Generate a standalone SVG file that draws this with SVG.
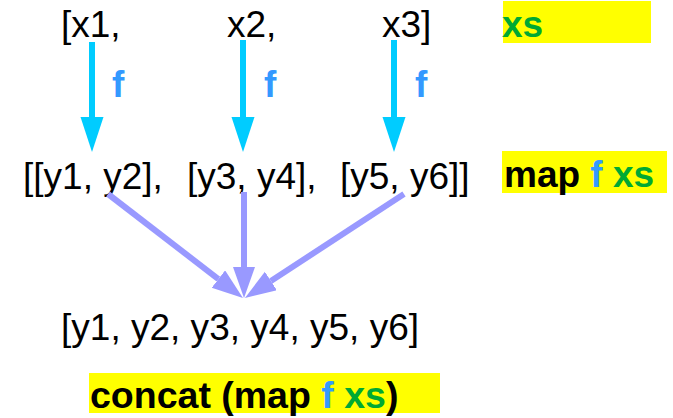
<svg xmlns="http://www.w3.org/2000/svg" width="673" height="418" viewBox="0 0 673 418">
<style>
.t{font-family:"Liberation Sans",Arial,sans-serif;font-size:37px;fill:#000}
.b{font-family:"Liberation Sans",Arial,sans-serif;font-size:37px;font-weight:bold;fill:#000}
.f{fill:#3399ff}
.g{fill:#00a933}
.hl{fill:#ffff00}
.cy{stroke:#00ccff;stroke-width:6;fill:none}
.pu{stroke:#9999ff;stroke-width:6;fill:none}
</style>
<defs>
<marker id="hc" markerUnits="userSpaceOnUse" markerWidth="36" markerHeight="24" refX="0" refY="11.5" orient="auto" viewBox="0 0 36 24">
<path d="M0,0 L35,11.5 L0,23 Z" fill="#00ccff"/>
</marker>
<marker id="hp" markerUnits="userSpaceOnUse" markerWidth="32" markerHeight="23" refX="0" refY="11" orient="auto" viewBox="0 0 32 23">
<path d="M0,0 L31,11 L0,22 Z" fill="#9999ff"/>
</marker>
</defs>
<g id="xs-row">
<text class="t" x="61" y="37">[x1,</text>
<text class="t" x="227" y="37">x2,</text>
<text class="t" x="382" y="37">x3]</text>
</g>
<g id="label-xs">
<rect class="hl" x="503" y="1" width="148" height="42"/>
<text class="b" x="502" y="37"><tspan class="g">xs</tspan></text>
</g>
<g id="map-row">
<text class="t" y="189" xml:space="preserve"><tspan x="23">[[y1, y2],</tspan><tspan x="187">[y3, y4],</tspan><tspan x="340">[y5, y6]]</tspan></text>
</g>
<g id="label-map">
<rect class="hl" x="502" y="151" width="165" height="42"/>
<text class="b" x="504" y="187">map <tspan class="f">f</tspan> <tspan class="g">xs</tspan></text>
</g>
<g id="concat-row">
<text class="t" x="61" y="340" textLength="358">[y1, y2, y3, y4, y5, y6]</text>
</g>
<g id="label-concat">
<rect class="hl" x="89" y="373" width="351" height="40"/>
<text class="b" x="90" y="408" style="font-size:37.5px">concat (map <tspan class="f">f</tspan> <tspan class="g">xs</tspan>)</text>
</g>
<g id="connectors">
<line class="cy" x1="92" y1="42" x2="92" y2="117" marker-end="url(#hc)"/>
<line class="cy" x1="243" y1="40" x2="243" y2="117" marker-end="url(#hc)"/>
<line class="cy" x1="394" y1="40" x2="394" y2="117" marker-end="url(#hc)"/>
<text class="b f" x="112" y="97">f</text>
<text class="b f" x="264" y="97">f</text>
<text class="b f" x="415" y="97">f</text>
<line class="pu" x1="108" y1="194" x2="218.4" y2="279.1" marker-end="url(#hp)"/>
<line class="pu" x1="244" y1="192" x2="244" y2="267" marker-end="url(#hp)"/>
<line class="pu" x1="404" y1="194" x2="270.9" y2="281" marker-end="url(#hp)"/>
</g>
</svg>
